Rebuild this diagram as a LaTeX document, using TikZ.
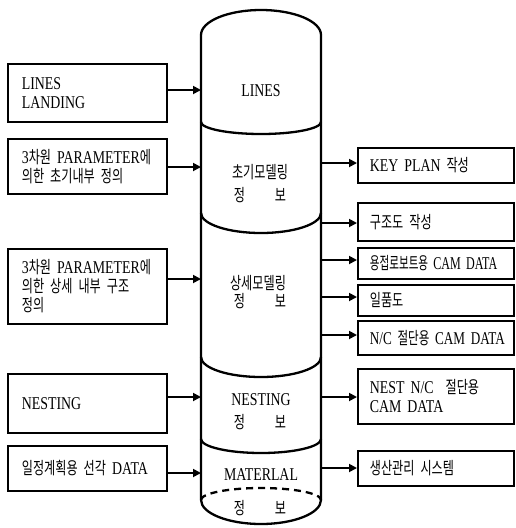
\documentclass[tikz,border=0pt]{standalone}
\usepackage{fontspec}
\setmainfont{Liberation Serif}[FakeStretch=0.77]
\newfontfamily\kr{Noto Sans CJK KR}[FakeStretch=0.71,Scale=0.95]
\usetikzlibrary{arrows.meta}
\newcommand\K[1]{{\kr #1}}
\hyphenpenalty=10000
\begin{document}
\begin{tikzpicture}[x=1pt,y=-1pt,
  every node/.style={font=\fontsize{18}{19}\selectfont},
  lbox/.style={draw, line width=1.8pt, anchor=north west, align=left,
    inner xsep=14pt, inner ysep=2pt, text width=131pt},
  rbox/.style={draw, line width=1.8pt, anchor=north west, align=left,
    inner xsep=12pt, inner ysep=2pt, text width=132pt},
  cyl/.style={line width=2.3pt},
  arr/.style={line width=1.8pt, -{Triangle[length=8pt,width=8pt]}},
  lbl/.style={inner sep=0pt}]
\useasboundingbox (0,0) rectangle (516,528);

% cylinder outline
\draw[cyl] (201,500) -- (201,35)
  .. controls (201,21.2) and (227.9,10) .. (261,10)
  .. controls (294.1,10) and (321,21.2) .. (321,35) -- (321,500);
% section separators
\draw[cyl] (201,122) .. controls (201,128.6) and (227.9,134) .. (261,134)
  .. controls (294.1,134) and (321,128.6) .. (321,122);
\draw[cyl] (201,213) .. controls (201,224) and (227.9,233) .. (261,233)
  .. controls (294.1,233) and (321,224) .. (321,213);
\draw[cyl] (201,357) .. controls (201,368) and (227.9,377) .. (261,377)
  .. controls (294.1,377) and (321,368) .. (321,357);
\draw[cyl] (201,439) .. controls (201,446.7) and (227.9,453) .. (261,453)
  .. controls (294.1,453) and (321,446.7) .. (321,439);
% bottom
\draw[cyl] (201,500) .. controls (201,513.2) and (227.9,524) .. (261,524)
  .. controls (294.1,524) and (321,513.2) .. (321,500);
\draw[cyl, dash pattern=on 7pt off 5pt] (201,500) .. controls (201,493.4) and (227.9,488) .. (261,488)
  .. controls (294.1,488) and (321,493.4) .. (321,500);

% cylinder labels
\node[lbl] (t1) at (261,91) {LINES};
\node[lbl] (t2) at (260,172) {\K{초기모델링}};
\node[lbl] (t2b) at (260,195) {\K{정\hspace{30pt}보}};
\node[lbl] (t3) at (258,283) {\K{상세모델링}};
\node[lbl] (t3b) at (260,301) {\K{정\hspace{30pt}보}};
\node[lbl] (t4) at (261,400) {NESTING};
\node[lbl] (t4b) at (260,422) {\K{정\hspace{30pt}보}};
\node[lbl] (t5) at (261,475) {MATERLAL};
\node[lbl] (t5b) at (260,508) {\K{정\hspace{30pt}보}};

% left boxes
\node[lbox, minimum height=58pt] (lb1) at (7,63) {LINES\\LANDING};
\node[lbox, minimum height=55pt] (lb2) at (7,138) {\mbox{3\K{차원} PARAMETER\K{에}}\\\mbox{\K{의한 초기내부 정의}}};
\node[lbox, minimum height=75pt] (lb3) at (7,248) {\mbox{3\K{차원} PARAMETER\K{에}}\\\mbox{\K{의한 상세 내부 구조}}\\\K{정의}};
\node[lbox, minimum height=59pt] (lb4) at (7,373) {NESTING};
\node[lbox, minimum height=45pt] (lb5) at (7,445) {\mbox{\K{일정계획용 선각} DATA}};

% right boxes
\node[rbox, minimum height=35pt] (rb1) at (357,147) {\mbox{KEY PLAN \K{작성}}};
\node[rbox, minimum height=38pt] (rb2) at (357,202) {\mbox{\K{구조도 작성}}};
\node[rbox, minimum height=31pt] (rb3) at (357,247) {\scalebox{0.87}[1]{\K{용접로보트용} CAM DATA}};
\node[rbox, minimum height=31pt] (rb4) at (357,284) {\K{일품도}};
\node[rbox, minimum height=34pt] (rb5) at (357,320) {\scalebox{0.95}[1]{N/C \K{절단용} CAM DATA}};
\node[rbox, minimum height=55pt] (rb6) at (357,368) {\mbox{NEST N/C\ \ \K{절단용}}\\CAM DATA};
\node[rbox, minimum height=35pt] (rb7) at (357,450) {\mbox{\K{생산관리 시스템}}};

% connector end points on the cylinder
\coordinate (L1) at (201,90);
\coordinate (L2) at (201,167);
\coordinate (L3) at (201,279);
\coordinate (L4) at (201,397);
\coordinate (L5) at (201,473);
\coordinate (R1) at (321,163);
\coordinate (R2) at (321,223);
\coordinate (R3) at (321,260);
\coordinate (R4) at (321,297);
\coordinate (R5) at (321,335);
\coordinate (R6) at (321,397);
\coordinate (R7) at (321,468);

\draw[arr] (L1 -| lb1.east) -- (L1);
\draw[arr] (L2 -| lb2.east) -- (L2);
\draw[arr] (L3 -| lb3.east) -- (L3);
\draw[arr] (L4 -| lb4.east) -- (L4);
\draw[arr] (L5 -| lb5.east) -- (L5);
\draw[arr] (R1) -- (R1 -| rb1.west);
\draw[arr] (R2) -- (R2 -| rb2.west);
\draw[arr] (R3) -- (R3 -| rb3.west);
\draw[arr] (R4) -- (R4 -| rb4.west);
\draw[arr] (R5) -- (R5 -| rb5.west);
\draw[arr] (R6) -- (R6 -| rb6.west);
\draw[arr] (R7) -- (R7 -| rb7.west);
\end{tikzpicture}
\end{document}
